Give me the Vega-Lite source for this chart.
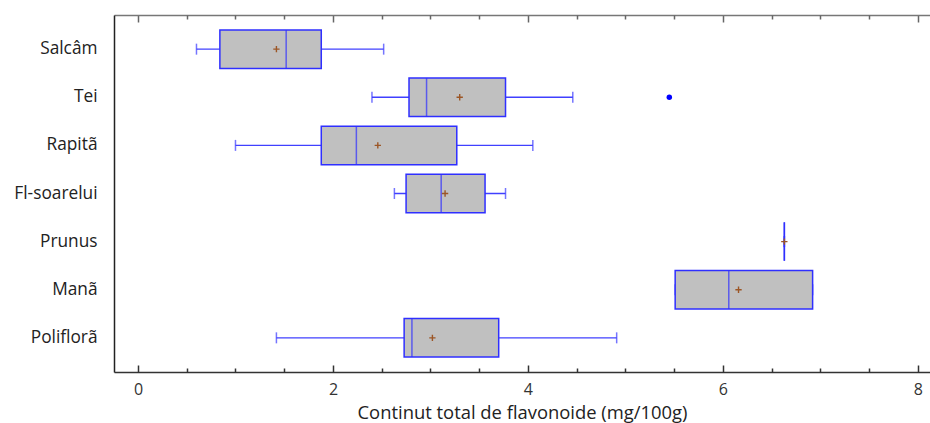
{
  "$schema": "https://vega.github.io/schema/vega-lite/v6.json",
  "autosize": "none",
  "width": 816,
  "height": 357,
  "padding": {"left": 114, "top": 15, "right": 0, "bottom": 51},
  "background": "white",
  "config": {"view": {"stroke": null}, "font": "Open Sans"},
  "datasets": {
    "boxes": [
      {"cat": "Salcâm", "lo": 0.60, "q1": 0.84, "med": 1.52, "q3": 1.88, "hi": 2.52, "mean": 1.42},
      {"cat": "Tei", "lo": 2.40, "q1": 2.78, "med": 2.96, "q3": 3.77, "hi": 4.46, "mean": 3.30},
      {"cat": "Rapitã", "lo": 1.00, "q1": 1.88, "med": 2.24, "q3": 3.27, "hi": 4.05, "mean": 2.46},
      {"cat": "Fl-soarelui", "lo": 2.63, "q1": 2.75, "med": 3.11, "q3": 3.56, "hi": 3.77, "mean": 3.15},
      {"cat": "Prunus", "lo": 6.63, "q1": 6.63, "med": 6.63, "q3": 6.63, "hi": 6.63, "mean": 6.63},
      {"cat": "Manã", "lo": 5.51, "q1": 5.51, "med": 6.06, "q3": 6.92, "hi": 6.92, "mean": 6.16},
      {"cat": "Poliflorã", "lo": 1.42, "q1": 2.73, "med": 2.81, "q3": 3.70, "hi": 4.91, "mean": 3.02}
    ],
    "outliers": [
      {"cat": "Tei", "v": 5.45}
    ]
  },
  "encoding": {
    "y": {
      "field": "cat", "type": "nominal", "sort": null,
      "scale": {"paddingInner": 0, "paddingOuter": 0.21},
      "axis": {
        "title": null, "ticks": false, "labelPadding": 17, "labelFontSize": 17.3,
        "labelColor": "#222", "domainColor": "#222", "domainWidth": 1.5, "labelFont": "Open Sans"
      }
    }
  },
  "layer": [
    {
      "data": {"name": "boxes"},
      "mark": {"type": "rule", "color": "#4040ff", "strokeWidth": 1.4},
      "encoding": {
        "x": {
          "field": "lo", "type": "quantitative",
          "scale": {"domain": [-0.246, 8.124], "nice": false, "zero": false},
          "axis": {
            "orient": "bottom",
            "values": [0, 2, 4, 6, 8],
            "format": "d",
            "grid": false, "ticks": false,
            "domainColor": "#333", "domainWidth": 1.5,
            "labelFontSize": 16, "labelColor": "#333", "labelPadding": 9, "labelFont": "Open Sans",
            "title": "Continut total de flavonoide (mg/100g)",
            "titleFontSize": 18.4, "titleFontWeight": "normal", "titleColor": "#222", "titlePadding": 6, "titleFont": "Open Sans"
          }
        },
        "x2": {"field": "hi"}
      }
    },
    {
      "data": {"name": "boxes"},
      "mark": {"type": "tick", "color": "#3a3aff", "size": 11, "thickness": 1.5},
      "encoding": {
        "x": {
          "field": "lo", "type": "quantitative",
          "axis": {
            "orient": "top", "offset": -357,
            "values": [0, 2, 4, 6, 8],
            "labels": false, "grid": false, "title": null, "domain": false,
            "ticks": true, "tickSize": 7, "tickColor": "#333", "tickWidth": 1.5
          }
        }
      }
    },
    {
      "data": {"name": "boxes"},
      "mark": {"type": "tick", "color": "#3a3aff", "size": 11, "thickness": 1.5},
      "encoding": {
        "x": {
          "field": "hi", "type": "quantitative",
          "axis": {
            "orient": "top", "offset": -357,
            "values": [0.5, 1, 1.5, 2.5, 3, 3.5, 4.5, 5, 5.5, 6.5, 7, 7.5],
            "labels": false, "grid": false, "title": null, "domain": false,
            "ticks": true, "tickSize": 4, "tickColor": "#333", "tickWidth": 1.5
          }
        }
      }
    },
    {
      "data": {"name": "boxes"},
      "mark": {"type": "bar", "fill": "#c0c0c0", "stroke": "#2f2fff", "strokeWidth": 1.5, "height": {"band": 0.8}},
      "encoding": {
        "x": {
          "field": "q1", "type": "quantitative",
          "axis": {
            "orient": "bottom", "offset": -357,
            "values": [0, 2, 4, 6, 8],
            "labels": false, "grid": false, "title": null,
            "domain": true, "domainColor": "#777", "domainWidth": 1.5,
            "ticks": true, "tickSize": 7, "tickColor": "#666", "tickWidth": 1.5
          }
        },
        "x2": {"field": "q3"}
      }
    },
    {
      "data": {"name": "boxes"},
      "mark": {"type": "tick", "color": "#2f2fff", "size": 38.4, "thickness": 1.5},
      "encoding": {
        "x": {
          "field": "med", "type": "quantitative",
          "axis": {
            "orient": "bottom", "offset": -357,
            "values": [0.5, 1, 1.5, 2.5, 3, 3.5, 4.5, 5, 5.5, 6.5, 7, 7.5],
            "labels": false, "grid": false, "title": null, "domain": false,
            "ticks": true, "tickSize": 4, "tickColor": "#666", "tickWidth": 1.5
          }
        }
      }
    },
    {
      "data": {"name": "boxes"},
      "mark": {"type": "point", "shape": "M-1,0H1M0,-1V1", "filled": false, "stroke": "#9c5626", "strokeWidth": 1.4, "size": 40, "opacity": 1},
      "encoding": {"x": {"field": "mean", "type": "quantitative", "axis": null}}
    },
    {
      "data": {"name": "outliers"},
      "mark": {"type": "circle", "color": "#0000ff", "size": 30, "opacity": 1},
      "encoding": {"x": {"field": "v", "type": "quantitative", "axis": null}}
    }
  ],
  "resolve": {"axis": {"x": "independent"}}
}
